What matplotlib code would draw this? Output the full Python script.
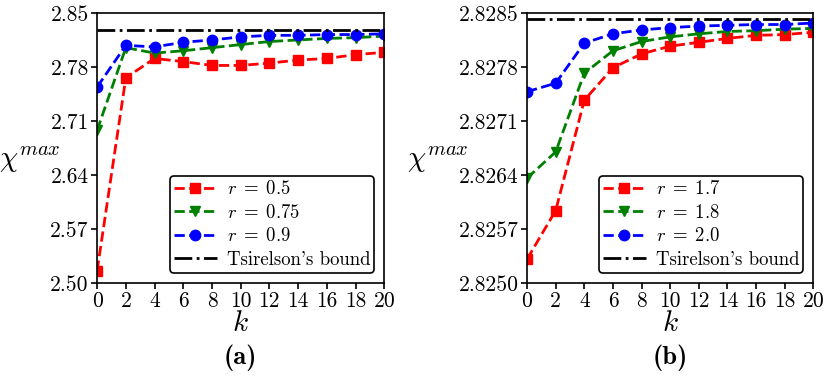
import matplotlib
matplotlib.use("Agg")
import matplotlib.pyplot as plt
import numpy as np
from matplotlib.ticker import FormatStrFormatter

plt.rcParams['font.family'] = 'serif'
plt.rcParams['font.serif'] = ['cmr10', 'DejaVu Serif']
plt.rcParams['mathtext.fontset'] = 'cm'
plt.rcParams['axes.unicode_minus'] = False

k = [0, 2, 4, 6, 8, 10, 12, 14, 16, 18, 20]
bound = 2 * np.sqrt(2)

# panel (a)
labels_a = [r'$r\;=\;0.5$', r'$r\;=\;0.75$', r'$r\;=\;0.9$']
chi_a_05 = [2.516, 2.766, 2.791, 2.787, 2.782, 2.782, 2.785, 2.789, 2.791, 2.796, 2.799]
chi_a_075 = [2.698, 2.805, 2.798, 2.801, 2.805, 2.809, 2.813, 2.815, 2.817, 2.818, 2.820]
chi_a_09 = [2.754, 2.808, 2.806, 2.812, 2.815, 2.819, 2.821, 2.821, 2.822, 2.822, 2.823]
yticks_a = [2.50, 2.57, 2.64, 2.71, 2.78, 2.85]

# panel (b)
labels_b = [r'$r\;=\;1.7$', r'$r\;=\;1.8$', r'$r\;=\;2.0$']
chi_b_17 = [2.82531, 2.82594, 2.82737, 2.82779, 2.82797, 2.82807, 2.82812, 2.82817, 2.82821, 2.82822, 2.82825]
chi_b_18 = [2.82636, 2.82670, 2.82772, 2.82801, 2.82813, 2.82819, 2.82823, 2.82826, 2.82827, 2.82829, 2.82830]
chi_b_20 = [2.82748, 2.82759, 2.82811, 2.82823, 2.82828, 2.82831, 2.82833, 2.82834, 2.82835, 2.82835, 2.82837]
yticks_b = [2.8250, 2.8257, 2.8264, 2.8271, 2.8278, 2.8285]

colors = ['red', 'green', 'blue']
markers = ['s', 'v', 'o']

fig = plt.figure(figsize=(8.3, 3.81), dpi=100)
ax_a = fig.add_axes([0.117, 0.257, 0.346, 0.709])
ax_b = fig.add_axes([0.635, 0.257, 0.345, 0.709])


def draw_panel(ax, series, labels, yticks, fmt, tag, ylab_x):
    for y, lab, c, m in zip(series, labels, colors, markers):
        ax.plot(k, y, linestyle='--', color=c, marker=m, markersize=7.5, lw=2, label=lab)
    ax.axhline(bound, color='black', linestyle='-.', lw=2, label="Tsirelson's bound")
    ax.set_xlim(0, 20)
    ax.set_ylim(yticks[0], yticks[-1])
    ax.set_xticks(np.arange(0, 21, 2))
    ax.set_yticks(yticks)
    ax.yaxis.set_major_formatter(FormatStrFormatter(fmt))
    ax.tick_params(labelsize=15.5, width=1.2, length=4, pad=2)
    for s in ax.spines.values():
        s.set_linewidth(1.2)
    ax.set_xlabel('$k$', fontsize=21, labelpad=0)
    ax.set_ylabel(r'$\chi^{max}$', fontsize=21, rotation=0, ha='right', va='center')
    ax.yaxis.set_label_coords(ylab_x, 0.455)
    leg = ax.legend(loc='lower right', fontsize=13.5, frameon=True, fancybox=True,
                    edgecolor='black', framealpha=1, handlelength=2.3,
                    handletextpad=0.53, borderaxespad=0.55, labelspacing=0.3,
                    borderpad=0.2)
    leg.get_frame().set_linewidth(1.2)
    ax.text(0.5, -0.278, tag, transform=ax.transAxes, ha='center', va='center',
            fontsize=19, family='cmb10')


draw_panel(ax_a, [chi_a_05, chi_a_075, chi_a_09], labels_a, yticks_a, '%.2f', '(a)', -0.128)
draw_panel(ax_b, [chi_b_17, chi_b_18, chi_b_20], labels_b, yticks_b, '%.4f', '(b)', -0.205)

fig.savefig('out.png', dpi=100)
